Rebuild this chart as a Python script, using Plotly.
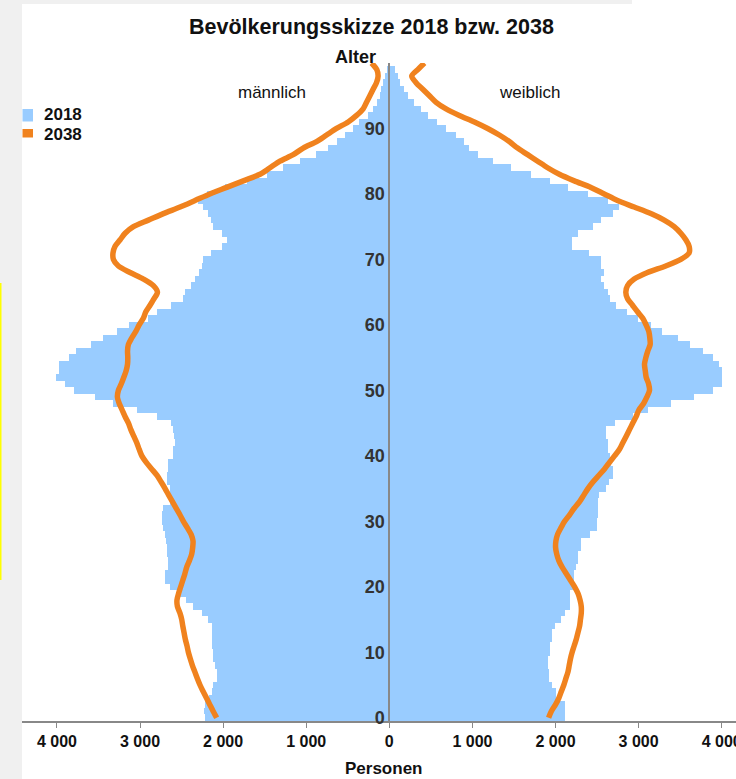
"""Bevölkerungspyramide 2018 (Balken) mit Vorausberechnung 2038 (Linie)."""

import plotly.graph_objects as go

# Altersjahre
alter = list(range(100))
alter_2038 = list(range(101))

# Personen je Altersjahr, 2018
maennlich_2018 = [
    2218, 2230, 2218, 2166, 2137, 2118, 2077, 2077, 2097, 2118,
    2118, 2130, 2137, 2137, 2137, 2178, 2257, 2358, 2446, 2558,
    2638, 2702, 2695, 2662, 2662, 2670, 2678, 2686, 2702, 2719,
    2734, 2734, 2719, 2638, 2638, 2638, 2678, 2678, 2659, 2659,
    2598, 2598, 2578, 2590, 2598, 2630, 2798, 3039, 3320, 3540,
    3800, 3908, 4008, 3972, 3972, 3852, 3768, 3591, 3440, 3272,
    3137, 2899, 2794, 2630, 2478, 2458, 2386, 2338, 2290, 2250,
    2245, 2146, 2017, 1957, 2017, 2118, 2149, 2178, 2238, 2298,
    2197, 1977, 1709, 1476, 1276, 1076, 887, 735, 627, 535,
    435, 363, 255, 195, 154, 114, 94, 75, 54, 26,
]
weiblich_2018 = [
    2110, 2110, 2110, 2010, 2010, 1962, 1921, 1921, 1909, 1909,
    1937, 1937, 1962, 1962, 1990, 2070, 2110, 2170, 2170, 2170,
    2218, 2218, 2218, 2250, 2270, 2270, 2310, 2310, 2410, 2498,
    2505, 2510, 2510, 2515, 2522, 2602, 2640, 2690, 2690, 2670,
    2650, 2630, 2630, 2602, 2602, 2710, 2930, 3107, 3392, 3672,
    3892, 4005, 4005, 4005, 3964, 3892, 3780, 3620, 3471, 3279,
    3151, 2990, 2866, 2726, 2658, 2626, 2586, 2546, 2586, 2546,
    2546, 2406, 2194, 2194, 2274, 2446, 2546, 2686, 2767, 2626,
    2386, 2145, 1933, 1704, 1464, 1244, 1064, 963, 895, 803,
    683, 575, 471, 383, 294, 230, 182, 134, 102, 70,
]

# Personen je Altersjahr, 2038
maennlich_2038 = [
    2077, 2120, 2160, 2200, 2240, 2278, 2310, 2340, 2370, 2395,
    2418, 2435, 2455, 2470, 2485, 2498, 2520, 2550, 2555, 2535,
    2510, 2485, 2460, 2438, 2405, 2378, 2366, 2362, 2385, 2430,
    2478, 2520, 2566, 2610, 2655, 2698, 2745, 2795, 2860, 2925,
    2978, 3010, 3039, 3075, 3110, 3139, 3180, 3215, 3250, 3272,
    3260, 3225, 3195, 3167, 3150, 3147, 3150, 3140, 3100, 3050,
    3010, 2960, 2930, 2879, 2831, 2790, 2839, 2959, 3119, 3260,
    3320, 3325, 3300, 3239, 3179, 3079, 2899, 2719, 2518, 2338,
    2160, 1957, 1757, 1556, 1436, 1316, 1156, 1036, 875, 755,
    635, 495, 394, 315, 274, 234, 195, 154, 135, 150,
    214,
]
weiblich_2038 = [
    1917, 1950, 2000, 2040, 2070, 2100, 2125, 2150, 2165, 2180,
    2200, 2225, 2250, 2270, 2290, 2300, 2310, 2310, 2295, 2270,
    2230, 2180, 2130, 2080, 2040, 2015, 2001, 2005, 2025, 2065,
    2110, 2170, 2225, 2290, 2340, 2390, 2450, 2520, 2590, 2650,
    2710, 2770, 2810, 2851, 2890, 2930, 2970, 3003, 3060, 3100,
    3131, 3120, 3091, 3080, 3071, 3087, 3110, 3139, 3135, 3123,
    3090, 3050, 2987, 2927, 2867, 2846, 2867, 2947, 3107, 3327,
    3508, 3608, 3608, 3568, 3508, 3428, 3308, 3147, 2947, 2746,
    2586, 2426, 2226, 2046, 1905, 1785, 1665, 1544, 1444, 1324,
    1184, 1024, 843, 683, 563, 483, 403, 322, 270, 343,
    423,
]

x_ticks = [-4000, -3000, -2000, -1000, 0, 1000, 2000, 3000, 4000]
x_labels = ["4 000", "3 000", "2 000", "1 000", "0",
            "1 000", "2 000", "3 000", "4 000"]
y_ticks = [0, 10, 20, 30, 40, 50, 60, 70, 80, 90]

BLAU = "#99ccff"
ORANGE = "#f0821e"
GRAU = "#888888"
FONT = "Liberation Sans, Arial, sans-serif"

W, H = 736, 779
M_L, M_R, M_T, M_B = 22, 0, 63, 58
X_RANGE = [-4420, 4172]
Y_RANGE = [-0.5, 100]


def px_x(px):
    """Pixel (links) -> paper-x."""
    return (px - M_L) / (W - M_L - M_R)


def px_y(py):
    """Pixel (oben) -> paper-y."""
    return (H - M_B - py) / (H - M_T - M_B)


fig = go.Figure()

# 2018: Balken
fig.add_trace(go.Bar(
    y=alter, x=[-v for v in maennlich_2018], orientation="h",
    width=1, marker=dict(color=BLAU, line_width=0),
    name="2018 männlich", customdata=maennlich_2018,
    hovertemplate="Alter %{y}: %{customdata}<extra>2018 männlich</extra>",
))
fig.add_trace(go.Bar(
    y=alter, x=weiblich_2018, orientation="h",
    width=1, marker=dict(color=BLAU, line_width=0),
    name="2018 weiblich",
    hovertemplate="Alter %{y}: %{x}<extra>2018 weiblich</extra>",
))

# 2038: Linien
fig.add_trace(go.Scatter(
    y=alter_2038, x=[-v for v in maennlich_2038], mode="lines",
    line=dict(color=ORANGE, width=5.5, shape="spline", smoothing=0.8),
    name="2038 männlich", customdata=maennlich_2038,
    hovertemplate="Alter %{y}: %{customdata}<extra>2038 männlich</extra>",
))
fig.add_trace(go.Scatter(
    y=alter_2038, x=weiblich_2038, mode="lines",
    line=dict(color=ORANGE, width=5.5, shape="spline", smoothing=0.8),
    name="2038 weiblich",
    hovertemplate="Alter %{y}: %{x}<extra>2038 weiblich</extra>",
))

fig.update_layout(
    width=W, height=H,
    margin=dict(l=M_L, r=M_R, t=M_T, b=M_B, autoexpand=False),
    paper_bgcolor="white", plot_bgcolor="white",
    barmode="overlay", bargap=0, showlegend=False,
    font=dict(family=FONT, color="#222"),
    xaxis=dict(
        range=X_RANGE, tickvals=x_ticks, ticktext=x_labels,
        ticks="outside", ticklen=5, tickcolor=GRAU, tickwidth=1,
        showline=True, linecolor=GRAU, linewidth=1.5,
        showgrid=False, zeroline=False, automargin=False,
        ticklabeloverflow="allow",
        tickfont=dict(family=FONT, size=16, color="#111", weight="bold"),
    ),
    yaxis=dict(
        range=Y_RANGE, tickvals=y_ticks, ticks="",
        anchor="free", position=-X_RANGE[0] / (X_RANGE[1] - X_RANGE[0]),
        showline=True, linecolor=GRAU, linewidth=2,
        showgrid=False, zeroline=False, automargin=False,
        tickfont=dict(family=FONT, size=18, color="#333", weight="bold"),
    ),
)

# Texte
texte = [
    ("Bevölkerungsskizze 2018 bzw. 2038", 371.5, 27, 21.5, "bold", "center"),
    ("Alter", 355, 57, 18, "bold", "center"),
    ("männlich", 272, 92, 17, "normal", "center"),
    ("weiblich", 529, 92, 17, "normal", "center"),
    ("Personen", 383, 768, 17, "bold", "center"),
    ("2018", 42, 115, 17, "bold", "left"),
    ("2038", 42, 134, 17, "bold", "left"),
]
for text, x, y, size, weight, anchor in texte:
    fig.add_annotation(
        text=text, x=px_x(x), y=px_y(y), xref="paper", yref="paper",
        xanchor=anchor, yanchor="middle", showarrow=False,
        font=dict(family=FONT, size=size, color="#111", weight=weight),
    )

# Legende (Farbfelder) und Fensterrand
felder = [
    (22.5, 109, 33, 121.5, BLAU),
    (22.5, 129, 33, 137.5, ORANGE),
    (0, 0, 22, H, "#f0f0f0"),
    (0, 0, 632, 4, "#f0f0f0"),
    (0, 283, 1.5, 580, "#ffff00"),
]
for x0, y0, x1, y1, farbe in felder:
    fig.add_shape(
        type="rect", xref="paper", yref="paper",
        x0=px_x(x0), x1=px_x(x1), y0=px_y(y0), y1=px_y(y1),
        fillcolor=farbe, line_width=0,
    )

# Seitenrand des <body> entfernen, damit die Grafik bündig sitzt
fig.write_html(
    "out.html",
    config={"displayModeBar": False},
    post_script="document.body.style.margin='0';",
)
